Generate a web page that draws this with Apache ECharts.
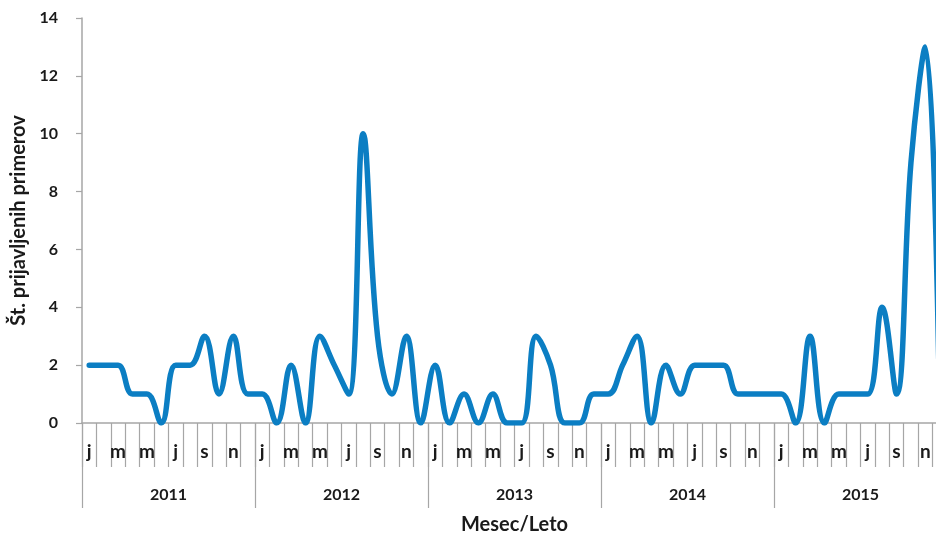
<!DOCTYPE html>
<html>
<head>
<meta charset="utf-8">
<script src="https://cdn.jsdelivr.net/npm/echarts@6/dist/echarts.min.js"></script>
<style>
html,body{margin:0;padding:0;background:#fff;overflow:hidden;}
#chart{width:936px;height:535px;}
</style>
</head>
<body>
<div id="chart"></div>
<script>
// Month letters (Slovenian), one per month 2011-2015
const monthLetters = ['j','f','m','a','m','j','j','a','s','o','n','d'];
const years = ['2011','2012','2013','2014','2015'];
// Reported cases per month
const v2011 = [2,2,2,1,1,0,2,2,3,1,3,1];
const v2012 = [1,0,2,0,3,2,1,10,3,1,3,0];
const v2013 = [2,0,1,0,1,0,0,3,2,0,0,1];
const v2014 = [1,2,3,0,2,1,2,2,2,1,1,1];
const v2015 = [1,0,3,0,1,1,1,4,1,9,13,0];
const yTicks = [0,2,4,6,8,10,12,14];

const months = [];
years.forEach(y => monthLetters.forEach((m, i) => months.push(m)));
const values = [].concat(v2011, v2012, v2013, v2014, v2015);

const FONT = 'Lato';
const gray = '#a6a6a6';
const chart = echarts.init(document.getElementById('chart'));
chart.setOption({
  animation: false,
  textStyle: { fontFamily: FONT },
  grid: { left: 82, width: 865, top: 18, height: 405, containLabel: false, outerBoundsMode: 'none' },
  xAxis: [
    {
      type: 'category',
      data: months,
      position: 'bottom',
      boundaryGap: true,
      axisLine: { show: true, lineStyle: { color: gray, width: 1.5 } },
      axisTick: { show: true, interval: 0, length: 44, lineStyle: { color: gray, width: 1.2 } },
      axisLabel: { interval: 1, margin: 19, fontSize: 19, fontWeight: 'bold', color: '#1a1a1a', fontFamily: FONT },
      splitLine: { show: false }
    },
    {
      type: 'category',
      data: years,
      position: 'bottom',
      boundaryGap: true,
      axisLine: { show: false },
      axisTick: { show: true, interval: 0, length: 85, lineStyle: { color: gray, width: 1.2 } },
      axisLabel: { interval: 0, margin: 64, fontSize: 16, fontWeight: 'bold', color: '#1a1a1a', fontFamily: FONT },
      name: 'Mesec/Leto',
      nameLocation: 'middle',
      nameGap: 92,
      nameTextStyle: { fontSize: 20, fontWeight: 'bold', color: '#1a1a1a', fontFamily: FONT },
      splitLine: { show: false }
    }
  ],
  yAxis: {
    type: 'value',
    min: yTicks[0],
    max: yTicks[yTicks.length - 1],
    interval: yTicks[1] - yTicks[0],
    axisLine: { show: true, lineStyle: { color: gray, width: 1.5 } },
    axisTick: { show: true, length: 6, lineStyle: { color: gray, width: 1.2 } },
    axisLabel: { margin: 24, fontSize: 16, fontWeight: 'bold', color: '#1a1a1a', fontFamily: FONT },
    splitLine: { show: false },
    name: 'Št. prijavljenih primerov',
    nameLocation: 'middle',
    nameGap: 53,
    nameTextStyle: { fontSize: 20, fontWeight: 'bold', color: '#1a1a1a', fontFamily: FONT }
  },
  series: [{
    type: 'line',
    xAxisIndex: 0,
    data: values,
    smooth: 0.4,
    showSymbol: false,
    lineStyle: { color: '#0b7ec3', width: 5.5, cap: 'round', join: 'round' },
    itemStyle: { color: '#0b7ec3' }
  }]
});
</script>
</body>
</html>
